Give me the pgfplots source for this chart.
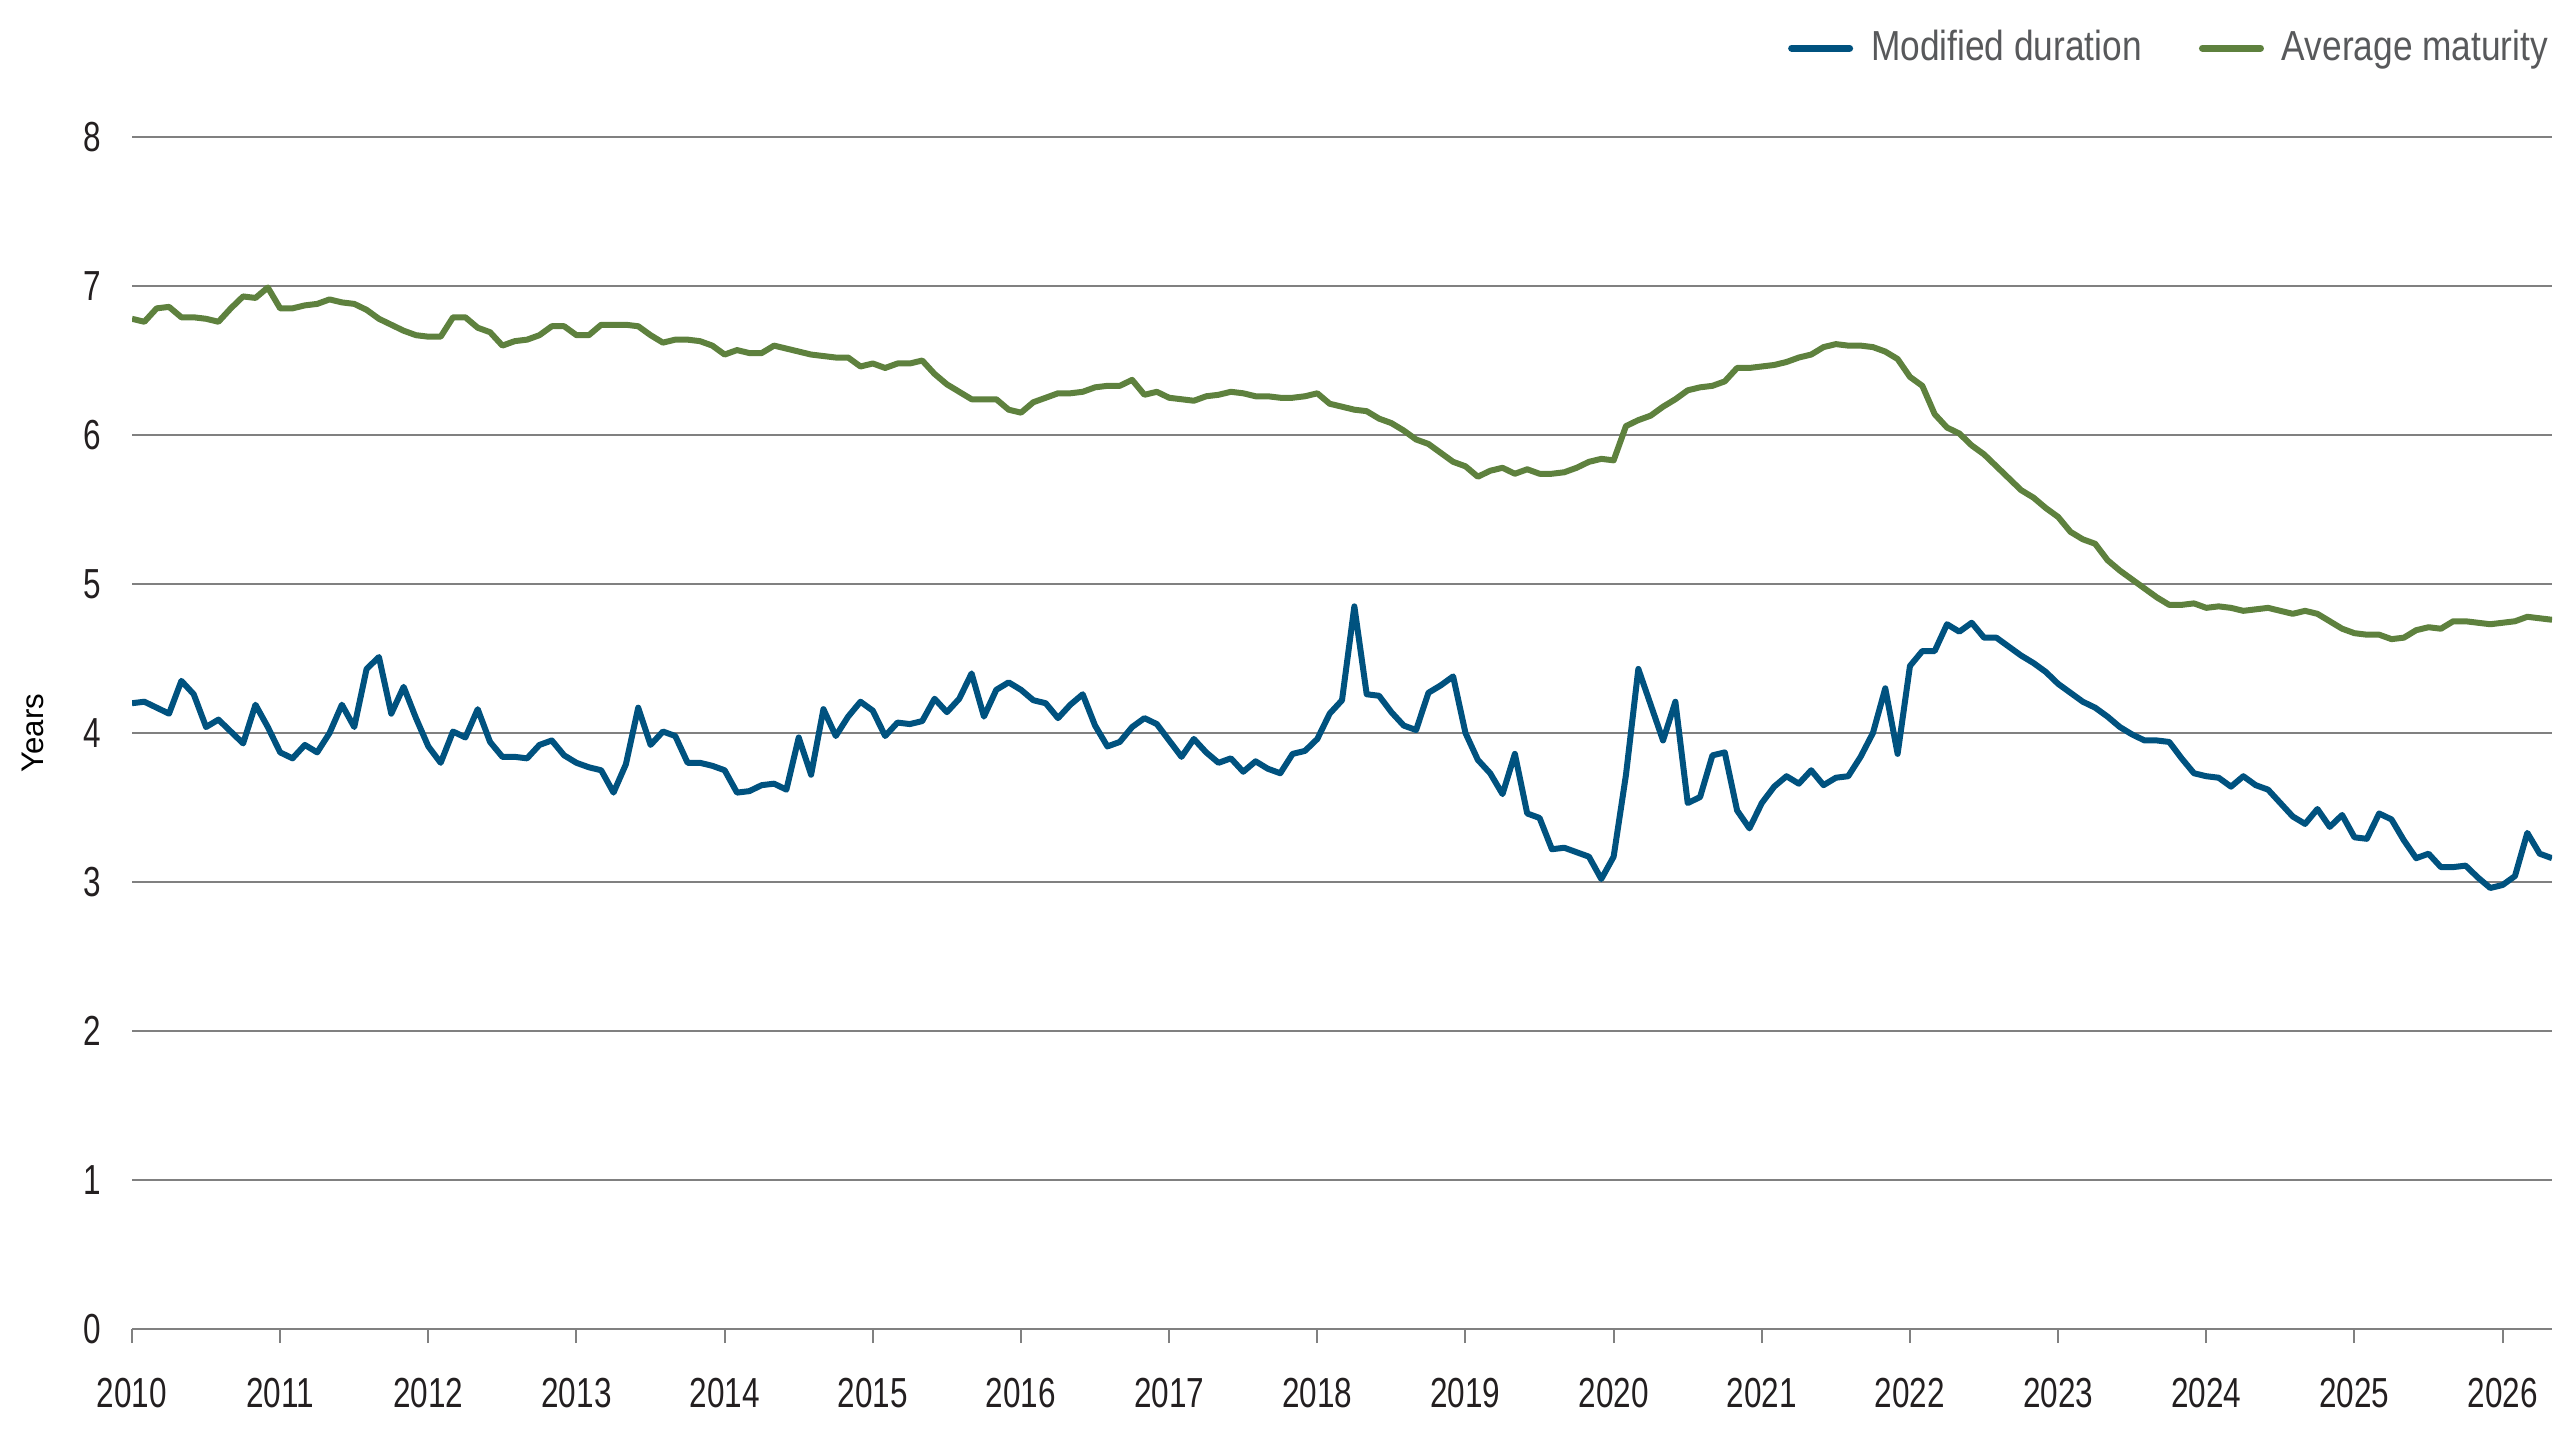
\documentclass[border=0pt]{standalone}
\usepackage{fontspec}
\setmainfont{Liberation Sans}
\newfontfamily\tickfont[FakeStretch=0.75]{Liberation Sans}
\newfontfamily\legfont[FakeStretch=0.84]{Liberation Sans}
\usepackage{pgfplots}
\usepackage{pgfplotstable}
\pgfplotsset{compat=1.18}
\definecolor{durblue}{HTML}{00527F}
\definecolor{matgreen}{HTML}{5E813E}
\definecolor{gridgray}{HTML}{808080}
\definecolor{leggray}{HTML}{58595B}
\definecolor{ticktext}{HTML}{231F20}

\pgfplotstableread{
dur mat
4.20 6.78
4.21 6.76
4.17 6.85
4.13 6.86
4.35 6.79
4.26 6.79
4.04 6.78
4.09 6.76
4.01 6.85
3.93 6.93
4.19 6.92
4.04 6.99
3.87 6.85
3.83 6.85
3.92 6.87
3.87 6.88
4.00 6.91
4.19 6.89
4.04 6.88
4.43 6.84
4.51 6.78
4.13 6.74
4.31 6.70
4.10 6.67
3.91 6.66
3.80 6.66
4.01 6.79
3.97 6.79
4.16 6.72
3.94 6.69
3.84 6.60
3.84 6.63
3.83 6.64
3.92 6.67
3.95 6.73
3.85 6.73
3.80 6.67
3.77 6.67
3.75 6.74
3.60 6.74
3.79 6.74
4.17 6.73
3.92 6.67
4.01 6.62
3.98 6.64
3.80 6.64
3.80 6.63
3.78 6.60
3.75 6.54
3.60 6.57
3.61 6.55
3.65 6.55
3.66 6.60
3.62 6.58
3.97 6.56
3.72 6.54
4.16 6.53
3.98 6.52
4.11 6.52
4.21 6.46
4.15 6.48
3.98 6.45
4.07 6.48
4.06 6.48
4.08 6.50
4.23 6.41
4.14 6.34
4.23 6.29
4.40 6.24
4.11 6.24
4.29 6.24
4.34 6.17
4.29 6.15
4.22 6.22
4.20 6.25
4.10 6.28
4.19 6.28
4.26 6.29
4.05 6.32
3.91 6.33
3.94 6.33
4.04 6.37
4.10 6.27
4.06 6.29
3.95 6.25
3.84 6.24
3.96 6.23
3.87 6.26
3.80 6.27
3.83 6.29
3.74 6.28
3.81 6.26
3.76 6.26
3.73 6.25
3.86 6.25
3.88 6.26
3.96 6.28
4.13 6.21
4.22 6.19
4.85 6.17
4.26 6.16
4.25 6.11
4.14 6.08
4.05 6.03
4.02 5.97
4.27 5.94
4.32 5.88
4.38 5.82
4.00 5.79
3.82 5.72
3.73 5.76
3.59 5.78
3.86 5.74
3.46 5.77
3.43 5.74
3.22 5.74
3.23 5.75
3.20 5.78
3.17 5.82
3.02 5.84
3.17 5.83
3.72 6.06
4.43 6.10
4.19 6.13
3.95 6.19
4.21 6.24
3.53 6.30
3.57 6.32
3.85 6.33
3.87 6.36
3.48 6.45
3.36 6.45
3.53 6.46
3.64 6.47
3.71 6.49
3.66 6.52
3.75 6.54
3.65 6.59
3.70 6.61
3.71 6.60
3.84 6.60
4.00 6.59
4.30 6.56
3.86 6.51
4.45 6.39
4.55 6.33
4.55 6.14
4.73 6.05
4.68 6.01
4.74 5.93
4.64 5.87
4.64 5.79
4.58 5.71
4.52 5.63
4.47 5.58
4.41 5.51
4.33 5.45
4.27 5.35
4.21 5.30
4.17 5.27
4.11 5.16
4.04 5.09
3.99 5.03
3.95 4.97
3.95 4.91
3.94 4.86
3.83 4.86
3.73 4.87
3.71 4.84
3.70 4.85
3.64 4.84
3.71 4.82
3.65 4.83
3.62 4.84
3.53 4.82
3.44 4.80
3.39 4.82
3.49 4.80
3.37 4.75
3.45 4.70
3.30 4.67
3.29 4.66
3.46 4.66
3.42 4.63
3.28 4.64
3.16 4.69
3.19 4.71
3.10 4.70
3.10 4.75
3.11 4.75
3.03 4.74
2.96 4.73
2.98 4.74
3.04 4.75
3.33 4.78
3.19 4.77
3.16 4.76
}\mydata

\begin{document}
\begin{tikzpicture}
\path[use as bounding box] (0,0) rectangle (640pt,360pt);
\begin{axis}[
  at={(33pt,27.75pt)}, anchor=south west,
  scale only axis, width=605pt, height=298pt,
  xmin=0, xmax=196, ymin=0, ymax=8,
  axis x line*=bottom, axis y line*=left,
  y axis line style={draw=none},
  x axis line style={draw=gridgray, line width=0.5pt, -},
  xtick={0,12,24,36,48,60,72,84,96,108,120,132,144,156,168,180,192},
  xticklabels={2010,2011,2012,2013,2014,2015,2016,2017,2018,2019,2020,2021,2022,2023,2024,2025,2026},
  ytick={0,1,2,3,4,5,6,7,8},
  ymajorgrids, grid style={draw=gridgray, line width=0.5pt},
  tick align=outside,
  major tick length=3.5pt,
  xtick style={draw=gridgray, line width=0.5pt},
  ytick style={draw=none},
  /pgf/number format/assume math mode=true,
  ticklabel style={font=\tickfont\fontsize{10.5}{12}\selectfont, text=ticktext},
  xticklabel style={yshift=-5.2pt},
  yticklabel style={xshift=-0.7pt},
  ylabel={Years},
  every axis y label/.style={at={(axis description cs:-0.0409,0.5)}, rotate=90, anchor=center, font=\fontsize{7.8}{9}\selectfont, text=black},
  legend columns=2,
  legend style={draw=none, fill=none, at={(rel axis cs:1,1)}, anchor=east, xshift=-1pt, yshift=22.2pt, inner sep=0pt, outer sep=0pt, font=\legfont\fontsize{10.5}{12}\selectfont, text=leggray, nodes={inner sep=0pt}, /tikz/every even column/.append style={column sep=14.3pt}},
  legend image code/.code={\draw[#1, line width=1.75pt, line cap=round] (0.9pt,0pt) -- (15.4pt,0pt);},
]
\addplot[durblue, line width=1.5pt, line join=round] table[x expr=\coordindex, y=dur]{\mydata};
\addlegendentry{\hspace{4.5pt}Modified duration}
\addplot[matgreen, line width=1.5pt, line join=round] table[x expr=\coordindex, y=mat]{\mydata};
\addlegendentry{\hspace{4.5pt}Average maturity}
\end{axis}
\end{tikzpicture}
\end{document}
